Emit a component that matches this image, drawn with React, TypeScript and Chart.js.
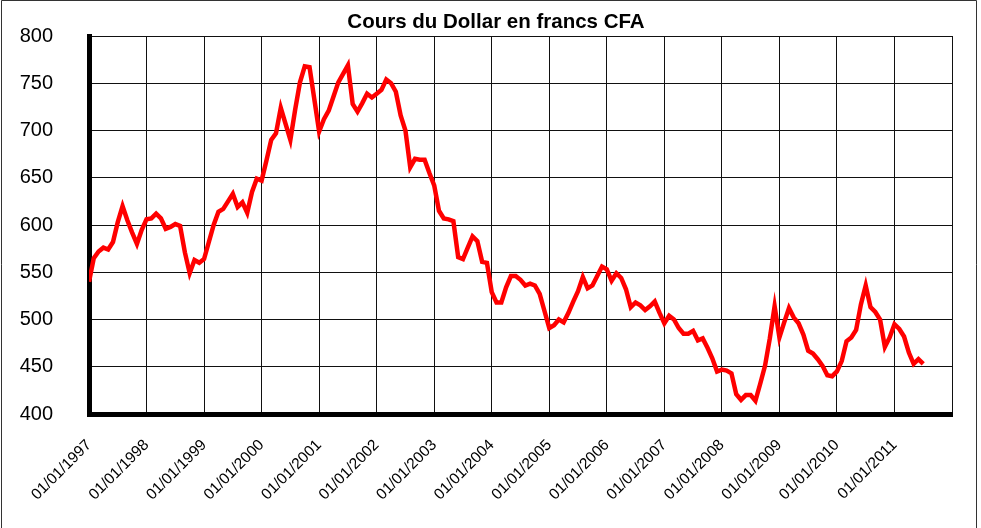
import React, { useEffect, useRef } from 'react';
import { Chart, registerables } from 'chart.js';

Chart.register(...registerables);

const chartTitle = 'Cours du Dollar en francs CFA';

// Monthly values (francs CFA per US dollar)
const v1997 = [540, 565, 572, 576, 574, 582, 603, 620, 605, 592, 580, 595];
const v1998 = [606, 607, 612, 607, 596, 598, 601, 599, 571, 549, 563, 560];
const v1999 = [564, 582, 600, 614, 617, 625, 633, 619, 624, 613, 635, 649];
const v2000 = [647, 668, 690, 697, 724, 707, 690, 722, 751, 768, 767, 733];
const v2001 = [699, 712, 721, 736, 751, 760, 769, 728, 720, 729, 739, 735];
const v2002 = [739, 743, 754, 750, 741, 716, 700, 661, 670, 669, 669, 655];
const v2003 = [642, 615, 607, 606, 604, 566, 564, 576, 588, 583, 561, 560];
const v2004 = [529, 518, 518, 534, 546, 546, 542, 536, 538, 536, 527, 509];
const v2005 = [491, 494, 500, 497, 507, 519, 530, 545, 533, 536, 546, 556];
const v2006 = [553, 541, 549, 544, 532, 513, 518, 515, 510, 514, 519, 507];
const v2007 = [496, 504, 500, 491, 485, 485, 488, 478, 480, 470, 459, 445];
const v2008 = [447, 446, 443, 421, 415, 420, 420, 414, 432, 451, 480, 514];
const v2009 = [481, 497, 512, 502, 496, 484, 467, 464, 458, 451, 441, 440];
const v2010 = [445, 456, 477, 481, 489, 516, 536, 513, 508, 500, 471, 481];
const v2011 = [495, 490, 482, 465, 453, 458, 453];

const monthlyValues = [
  ...v1997, ...v1998, ...v1999, ...v2000, ...v2001, ...v2002, ...v2003,
  ...v2004, ...v2005, ...v2006, ...v2007, ...v2008, ...v2009, ...v2010, ...v2011,
];

const xTickLabels = [
  '01/01/1997', '01/01/1998', '01/01/1999', '01/01/2000', '01/01/2001',
  '01/01/2002', '01/01/2003', '01/01/2004', '01/01/2005', '01/01/2006',
  '01/01/2007', '01/01/2008', '01/01/2009', '01/01/2010', '01/01/2011',
];
const monthsShown = 180; // Jan 1997 .. Jan 2012
const yMin = 400;
const yMax = 800;
const yStep = 50;

const FONT = '"Liberation Sans", Arial, sans-serif';

export default function App() {
  const ref = useRef<HTMLCanvasElement>(null);

  useEffect(() => {
    const canvas = ref.current;
    if (!canvas) return;

    const frameAndTitle = {
      id: 'frameAndTitle',
      afterDraw(chart: any) {
        const ctx = chart.ctx as CanvasRenderingContext2D;
        ctx.save();
        ctx.strokeStyle = '#333';
        ctx.lineWidth = 1;
        ctx.beginPath();
        ctx.moveTo(1.5, 528);
        ctx.lineTo(1.5, 0.5);
        ctx.lineTo(976.5, 0.5);
        ctx.lineTo(976.5, 528);
        ctx.stroke();
        ctx.fillStyle = '#000';
        ctx.font = `bold 20.5px ${FONT}`;
        ctx.textAlign = 'center';
        ctx.textBaseline = 'middle';
        ctx.fillText(chartTitle, 496, 22);
        ctx.restore();
      },
    };

    const chart = new Chart(canvas, {
      type: 'line',
      data: {
        datasets: [
          {
            label: chartTitle,
            data: monthlyValues.map((v, i) => ({ x: i, y: v })),
            borderColor: '#ff0000',
            borderWidth: 4.5,
            pointRadius: 0,
            tension: 0,
            fill: false,
          },
        ],
      },
      options: {
        animation: false,
        responsive: false,
        devicePixelRatio: 1,
        layout: { padding: { top: 36, right: 29, left: 0, bottom: 0 } },
        plugins: {
          legend: { display: false },
          title: { display: false },
          tooltip: { enabled: false },
        },
        scales: {
          x: {
            type: 'linear',
            min: 0,
            max: monthsShown,
            afterFit(scale: any) {
              scale.height = 528 - 414;
            },
            afterBuildTicks(scale: any) {
              const ticks = [];
              for (let m = 0; m <= monthsShown; m += 12) ticks.push({ value: m });
              scale.ticks = ticks;
            },
            ticks: {
              autoSkip: false,
              minRotation: 45,
              maxRotation: 45,
              padding: 0,
              color: '#000',
              font: { family: FONT, size: 15.5 },
              callback: (v: any) => {
                const idx = Math.round(Number(v) / 12);
                return xTickLabels[idx] ?? '';
              },
            },
            grid: {
              color: '#111',
              lineWidth: 1,
              drawTicks: true,
              tickLength: 22,
              tickColor: 'rgba(0,0,0,0)',
            },
            border: { display: true, color: '#000', width: 5 },
          },
          y: {
            min: yMin,
            max: yMax,
            afterFit(scale: any) {
              scale.width = 89;
            },
            ticks: {
              stepSize: yStep,
              padding: 0,
              color: '#000',
              font: { family: FONT, size: 20 },
            },
            grid: {
              color: '#111',
              lineWidth: 1,
              drawTicks: true,
              tickLength: 36,
              tickColor: 'rgba(0,0,0,0)',
            },
            border: { display: true, color: '#000', width: 5 },
          },
        },
      },
      plugins: [frameAndTitle],
    } as any);

    return () => chart.destroy();
  }, []);

  return (
    <div style={{ position: 'fixed', left: 0, top: 0, width: 981, height: 528, background: '#fff' }}>
      <canvas ref={ref} width={981} height={528} style={{ display: 'block', width: 981, height: 528 }} />
    </div>
  );
}
